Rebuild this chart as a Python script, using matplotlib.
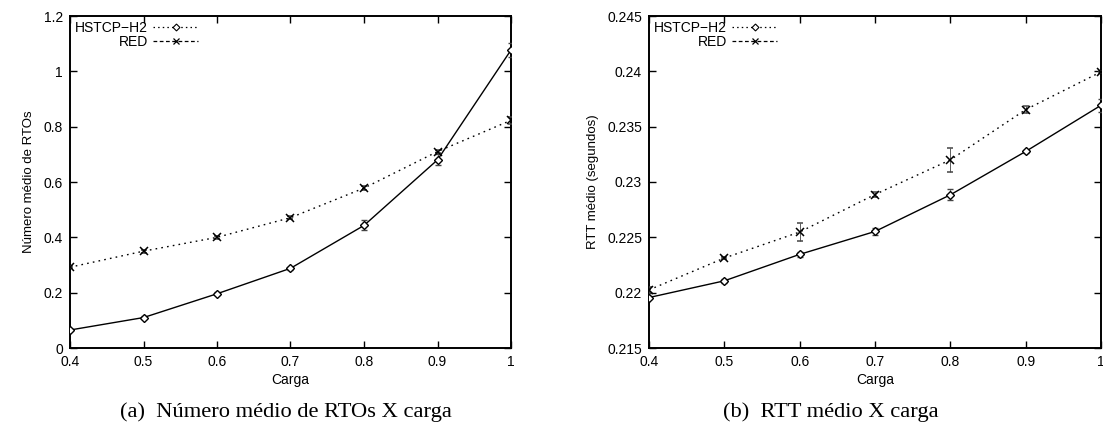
import matplotlib
matplotlib.use("Agg")
import matplotlib.pyplot as plt
from matplotlib.lines import Line2D

# ---- data ----
carga = [0.4, 0.5, 0.6, 0.7, 0.8, 0.9, 1.0]

rto_hstcp = [0.065, 0.11, 0.196, 0.288, 0.443, 0.68, 1.077]
rto_hstcp_err = [0.004, 0.006, 0.005, 0.005, 0.018, 0.02, 0.027]
rto_red = [0.292, 0.35, 0.40, 0.471, 0.578, 0.71, 0.823]
rto_red_err = [0.004, 0.006, 0.006, 0.006, 0.007, 0.006, 0.012]

rtt_hstcp = [0.21956, 0.22107, 0.22346, 0.22553, 0.22884, 0.23276, 0.23693]
rtt_hstcp_err = [0.0001, 0.0002, 0.0002, 0.0003, 0.0005, 0.0001, 0.0006]
rtt_red = [0.22025, 0.22313, 0.22548, 0.22887, 0.2320, 0.23654, 0.23995]
rtt_red_err = [0.0003, 0.0001, 0.0008, 0.0002, 0.0011, 0.0003, 0.0001]

legend_labels = ["HSTCP\u2212H2", "RED"]

rto_yticks = [0, 0.2, 0.4, 0.6, 0.8, 1, 1.2]
rto_yticklabels = ["0", "0.2", "0.4", "0.6", "0.8", "1", "1.2"]
rtt_yticks = [0.215, 0.22, 0.225, 0.23, 0.235, 0.24, 0.245]
rtt_yticklabels = ["0.215", "0.22", "0.225", "0.23", "0.235", "0.24", "0.245"]
xticks = [0.4, 0.5, 0.6, 0.7, 0.8, 0.9, 1.0]
xticklabels = ["0.4", "0.5", "0.6", "0.7", "0.8", "0.9", "1"]

plt.rcParams['font.family'] = ['Liberation Sans', 'DejaVu Sans']

W, H = 1103, 430
fig = plt.figure(figsize=(W / 100, H / 100), dpi=100)

ax1 = fig.add_axes([70 / W, 1 - 348 / H, 441 / W, 332 / H])
ax2 = fig.add_axes([649 / W, 1 - 348 / H, 452 / W, 332 / H])


def style(ax, yticks, yticklabels, ylim, ylabel):
    ax.set_xlim(0.4, 1.0)
    ax.set_ylim(*ylim)
    ax.set_xticks(xticks)
    ax.set_xticklabels(xticklabels)
    ax.set_yticks(yticks)
    ax.set_yticklabels(yticklabels)
    ax.tick_params(direction='in', length=5, width=1, top=True, right=True,
                   labelsize=10, pad=5, color='black')
    for s in ax.spines.values():
        s.set_linewidth(1.4)
    ax.set_xlabel("Carga", fontsize=10, labelpad=3)
    ax.set_ylabel(ylabel, fontsize=9.5, labelpad=6)


def draw(ax, ya, ea, yb, eb):
    ax.errorbar(carga, ya, yerr=ea, color='black', lw=1.0, marker='D',
                markersize=4.5, markerfacecolor='white', markeredgewidth=1.0,
                ecolor='#444444', elinewidth=0.6, capsize=2.5, capthick=0.6,
                zorder=3)
    ax.errorbar(carga, yb, yerr=eb, color='black', lw=1.0, ls=(0, (1.2, 3)),
                marker='x', markersize=6, markeredgewidth=1.1,
                ecolor='#444444', elinewidth=0.6, capsize=2.5, capthick=0.6,
                zorder=3)
    handles = [
        Line2D([], [], color='black', lw=0.9, ls=(0, (1.2, 2.5)), marker='D',
               markersize=3.5, markerfacecolor='white', markeredgewidth=0.8),
        Line2D([], [], color='black', lw=0.9, ls=(0, (3, 2)), marker='x',
               markersize=4.5, markeredgewidth=0.9),
    ]
    ax.legend(handles, legend_labels, loc='upper left', frameon=False,
              markerfirst=False, fontsize=10, handlelength=3.2,
              handletextpad=0.4, borderaxespad=0.2, labelspacing=0.0,
              borderpad=0.15)


style(ax1, rto_yticks, rto_yticklabels, (0, 1.2), "Número médio de RTOs")
draw(ax1, rto_hstcp, rto_hstcp_err, rto_red, rto_red_err)
style(ax2, rtt_yticks, rtt_yticklabels, (0.215, 0.245), "RTT médio (segundos)")
draw(ax2, rtt_hstcp, rtt_hstcp_err, rtt_red, rtt_red_err)

fig.text(286 / W, 1 - 412 / H, "(a)  Número médio de RTOs X carga",
         ha='center', va='center', fontsize=16.2, family='Liberation Serif')
fig.text(831 / W, 1 - 412 / H, "(b)  RTT médio X carga",
         ha='center', va='center', fontsize=16.2, family='Liberation Serif')

fig.savefig("out.png", dpi=100)
